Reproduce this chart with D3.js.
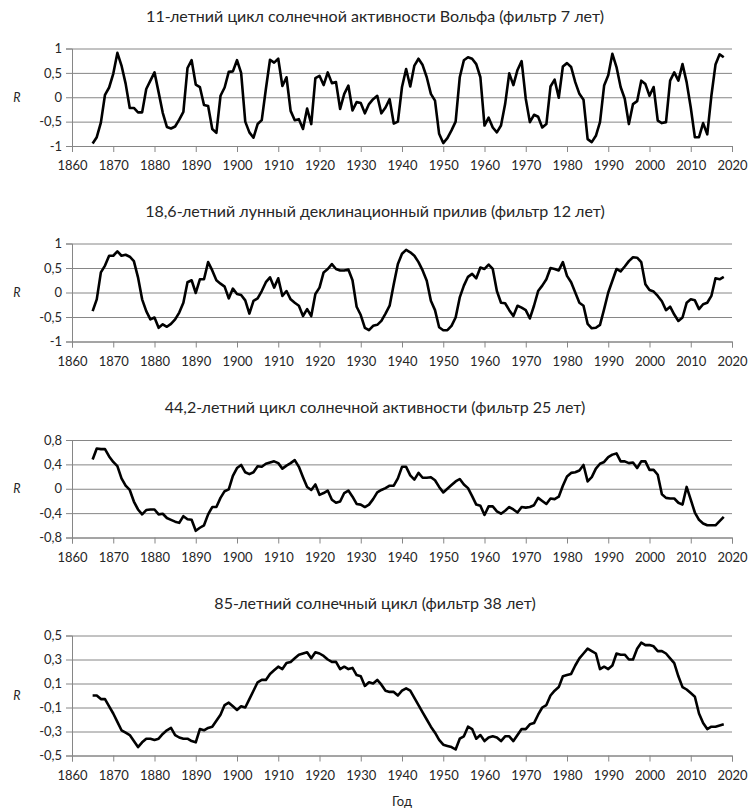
<!DOCTYPE html>
<html><head><meta charset="utf-8">
<script src="https://cdn.jsdelivr.net/npm/d3@7"></script>
<style>
body{margin:0;background:#fff}
svg{display:block}
text{font-family:Lato,"Open Sans",sans-serif;fill:#262626}
</style></head><body>
<svg id="chart" width="751" height="811"></svg>
<script>
// ---------- data ----------
const years = d3.range(1865, 2019);
const xTicks = [1860,1870,1880,1890,1900,1910,1920,1930,1940,1950,1960,1970,1980,1990,2000,2010,2020];

const titles = [
  "11-летний цикл солнечной активности Вольфа (фильтр 7 лет)",
  "18,6-летний лунный деклинационный прилив (фильтр 12 лет)",
  "44,2-летний цикл солнечной активности (фильтр 25 лет)",
  "85-летний солнечный цикл (фильтр 38 лет)"
];
const yLabel = "R";
const xLabel = "Год";

const ticks11 = [-1,-0.5,0,0.5,1];
const tickLabels11 = ["-1","-0,5","0","0,5","1"];
const ticks18 = [-1,-0.5,0,0.5,1];
const tickLabels18 = ["-1","-0,5","0","0,5","1"];
const ticks44 = [-0.8,-0.4,0,0.4,0.8];
const tickLabels44 = ["-0,8","-0,4","0","0,4","0,8"];
const ticks85 = [-0.5,-0.3,-0.1,0.1,0.3,0.5];
const tickLabels85 = ["-0,5","-0,3","-0,1","0,1","0,3","0,5"];

const solar11 = [
 -0.95,-0.82,-0.52,0.05,0.2,
 0.48,0.91,0.65,0.28,-0.22,-0.22,-0.31,-0.31,0.17,0.34,
 0.51,0.1,-0.32,-0.61,-0.64,-0.6,-0.46,-0.3,0.6,0.76,
 0.26,0.21,-0.16,-0.18,-0.65,-0.73,0.03,0.2,0.52,0.53,
 0.76,0.5,-0.5,-0.72,-0.83,-0.55,-0.47,0.17,0.77,0.71,
 0.79,0.23,0.41,-0.28,-0.47,-0.45,-0.65,-0.23,-0.55,0.39,
 0.44,0.25,0.51,0.29,0.31,-0.24,0.07,0.24,-0.27,-0.1,
 -0.12,-0.33,-0.14,-0.04,0.03,-0.33,-0.21,-0.04,-0.54,-0.5,
 0.21,0.58,0.22,0.65,0.79,0.66,0.41,0.07,-0.07,-0.75,
 -0.94,-0.84,-0.68,-0.5,0.41,0.76,0.82,0.79,0.68,0.41,
 -0.58,-0.42,-0.62,-0.72,-0.58,-0.14,0.49,0.25,0.56,0.74,
 -0.03,-0.51,-0.36,-0.4,-0.62,-0.55,0.22,0.36,-0.01,0.63,
 0.7,0.62,0.31,0.07,-0.05,-0.86,-0.92,-0.79,-0.51,0.24,
 0.45,0.89,0.62,0.21,-0.03,-0.55,-0.14,-0.08,0.34,0.27,
 0.03,0.21,-0.48,-0.53,-0.51,0.34,0.51,0.34,0.68,0.31,
 -0.21,-0.82,-0.82,-0.53,-0.76,0.03,0.67,0.88,0.82
];
const lunar18 = [
 -0.38,-0.14,0.41,0.55,0.75,
 0.75,0.84,0.75,0.77,0.73,0.64,0.31,-0.14,-0.38,-0.55,
 -0.51,-0.72,-0.65,-0.7,-0.64,-0.55,-0.41,-0.21,0.21,0.25,
 -0.01,0.27,0.27,0.62,0.45,0.25,0.18,0.12,-0.12,0.08,
 -0.03,-0.05,-0.16,-0.43,-0.17,-0.12,0.03,0.21,0.31,0.1,
 0.29,-0.07,0.03,-0.14,-0.21,-0.27,-0.48,-0.34,-0.48,-0.03,
 0.1,0.41,0.48,0.58,0.48,0.45,0.45,0.47,0.25,-0.29,
 -0.46,-0.72,-0.77,-0.68,-0.66,-0.58,-0.43,-0.27,0.17,0.58,
 0.79,0.87,0.82,0.75,0.62,0.45,0.24,-0.17,-0.36,-0.71,
 -0.77,-0.77,-0.68,-0.51,-0.1,0.14,0.32,0.38,0.29,0.51,
 0.48,0.57,0.48,0.03,-0.21,-0.22,-0.36,-0.48,-0.27,-0.31,
 -0.36,-0.53,-0.27,0.03,0.14,0.27,0.5,0.48,0.45,0.62,
 0.34,0.21,0,-0.21,-0.27,-0.64,-0.73,-0.72,-0.66,-0.34,
 0,0.24,0.48,0.43,0.53,0.64,0.72,0.71,0.62,0.17,
 0.05,0.02,-0.07,-0.18,-0.36,-0.29,-0.45,-0.58,-0.51,-0.21,
 -0.14,-0.16,-0.34,-0.24,-0.21,-0.07,0.29,0.27,0.32
];
const solar44 = [
 0.48,0.66,0.65,0.65,0.53,
 0.44,0.37,0.17,0.05,-0.02,-0.21,-0.34,-0.42,-0.35,-0.34,
 -0.34,-0.42,-0.41,-0.48,-0.51,-0.54,-0.56,-0.45,-0.5,-0.51,
 -0.69,-0.64,-0.6,-0.42,-0.3,-0.3,-0.15,-0.04,-0.01,0.21,
 0.34,0.39,0.27,0.24,0.27,0.37,0.36,0.41,0.43,0.45,
 0.42,0.33,0.38,0.42,0.47,0.36,0.19,0.03,-0.02,0.07,
 -0.1,-0.07,-0.03,-0.18,-0.23,-0.21,-0.07,-0.03,-0.13,-0.25,
 -0.26,-0.3,-0.26,-0.17,-0.06,-0.02,0.01,0.05,0.05,0.17,
 0.36,0.36,0.22,0.15,0.26,0.18,0.18,0.19,0.14,0.03,
 -0.06,0,0.06,0.12,0.16,0.07,0.01,-0.12,-0.26,-0.28,
 -0.43,-0.29,-0.29,-0.37,-0.41,-0.36,-0.3,-0.34,-0.39,-0.3,
 -0.31,-0.3,-0.27,-0.15,-0.2,-0.25,-0.16,-0.17,-0.13,0.05,
 0.2,0.26,0.27,0.3,0.39,0.12,0.19,0.33,0.41,0.44,
 0.52,0.56,0.58,0.45,0.45,0.42,0.43,0.34,0.45,0.45,
 0.31,0.31,0.23,-0.09,-0.15,-0.16,-0.16,-0.23,-0.26,0.03,
 -0.18,-0.39,-0.51,-0.57,-0.6,-0.6,-0.6,-0.53,-0.46
];
const solar85 = [
 0,0,-0.03,-0.03,-0.09,
 -0.15,-0.22,-0.29,-0.31,-0.33,-0.38,-0.43,-0.39,-0.36,-0.36,
 -0.37,-0.36,-0.32,-0.29,-0.27,-0.33,-0.35,-0.36,-0.36,-0.38,
 -0.39,-0.28,-0.29,-0.27,-0.26,-0.21,-0.16,-0.08,-0.06,-0.09,
 -0.12,-0.09,-0.1,-0.03,0.04,0.11,0.13,0.13,0.18,0.21,
 0.24,0.22,0.27,0.28,0.31,0.34,0.35,0.36,0.31,0.36,
 0.35,0.33,0.3,0.28,0.28,0.22,0.24,0.22,0.23,0.17,
 0.16,0.08,0.11,0.1,0.13,0.09,0.04,0.03,0.03,0,
 0.04,0.06,0.04,-0.02,-0.08,-0.14,-0.2,-0.26,-0.31,-0.37,
 -0.41,-0.42,-0.43,-0.45,-0.36,-0.34,-0.26,-0.28,-0.36,-0.33,
 -0.38,-0.35,-0.34,-0.35,-0.38,-0.34,-0.34,-0.38,-0.33,-0.28,
 -0.28,-0.24,-0.23,-0.16,-0.1,-0.08,0,0.04,0.07,0.16,
 0.17,0.18,0.25,0.31,0.35,0.39,0.37,0.35,0.22,0.24,
 0.22,0.25,0.35,0.34,0.34,0.3,0.3,0.39,0.44,0.42,
 0.42,0.41,0.37,0.37,0.35,0.31,0.27,0.16,0.07,0.05,
 0.02,-0.01,-0.15,-0.23,-0.28,-0.26,-0.26,-0.25,-0.24
];

// ---------- layout ----------
const plotLeft = 72, plotRight = 732;
const panels = [
  {title: titles[0], values: solar11, ticks: ticks11, labels: tickLabels11, top: 48.5, bottom: 146},
  {title: titles[1], values: lunar18, ticks: ticks18, labels: tickLabels18, top: 243.5, bottom: 341.5},
  {title: titles[2], values: solar44, ticks: ticks44, labels: tickLabels44, top: 440, bottom: 537.5},
  {title: titles[3], values: solar85, ticks: ticks85, labels: tickLabels85, top: 635.5, bottom: 755.5}
];

const svg = d3.select("#chart");
const x = d3.scaleLinear().domain([1860, 2020]).range([plotLeft, plotRight]);
const gridColor = "#868686";
const titleTargetWidth = 458;
let titleSize = 15;

panels.forEach((p, i) => {
  const ext = d3.extent(p.ticks);
  const y = d3.scaleLinear().domain(ext).range([p.bottom, p.top]);
  const g = svg.append("g");

  // gridlines
  g.append("g")
    .attr("transform", `translate(${plotLeft},0)`)
    .call(d3.axisLeft(y).tickValues(p.ticks).tickSize(-(plotRight - plotLeft)).tickFormat(""))
    .call(s => s.select(".domain").remove())
    .call(s => s.selectAll("line").attr("stroke", gridColor).attr("stroke-width", 1));

  // y axis
  g.append("g")
    .attr("transform", `translate(${plotLeft},0)`)
    .call(d3.axisLeft(y).tickValues(p.ticks).tickSize(6).tickPadding(4)
      .tickFormat(d => p.labels[p.ticks.indexOf(d)]))
    .call(s => s.select(".domain").attr("stroke", gridColor))
    .call(s => s.selectAll("line").attr("stroke", gridColor))
    .call(s => s.selectAll("text").attr("font-size", 13).attr("font-family", "Lato, sans-serif").attr("fill", "#1f1f1f"));

  // x axis
  g.append("g")
    .attr("transform", `translate(0,${p.bottom})`)
    .call(d3.axisBottom(x).tickValues(xTicks).tickSize(6).tickPadding(9).tickFormat(d3.format("d")))
    .call(s => s.select(".domain").attr("stroke", gridColor))
    .call(s => s.selectAll("line").attr("stroke", gridColor))
    .call(s => s.selectAll("text").attr("font-size", 13).attr("font-family", "Lato, sans-serif").attr("fill", "#1f1f1f"));

  // R label
  g.append("text")
    .attr("x", 17).attr("y", (p.top + p.bottom) / 2 + 4.5)
    .attr("text-anchor", "middle")
    .attr("font-size", 12.5).attr("font-style", "italic")
    .text(yLabel);

  // title
  g.append("text")
    .attr("class", "ptitle")
    .attr("x", 375).attr("y", p.top - 27)
    .attr("text-anchor", "middle")
    .attr("font-size", titleSize)
    .text(p.title);

  // line
  const line = d3.line().x((d, k) => x(years[k])).y(d => y(d));
  g.append("path")
    .datum(p.values)
    .attr("fill", "none")
    .attr("stroke", "#000")
    .attr("stroke-width", 2.6)
    .attr("stroke-linejoin", "round")
    .attr("d", line);
});

// fit title size to reference width
const first = svg.select(".ptitle").node();
const w = first.getComputedTextLength();
if (w > 0) {
  titleSize = titleSize * titleTargetWidth / w;
  svg.selectAll(".ptitle").attr("font-size", titleSize.toFixed(2));
}

svg.append("text")
  .attr("x", (plotLeft + plotRight) / 2).attr("y", 806)
  .attr("text-anchor", "middle")
  .attr("font-size", 13)
  .text(xLabel);
</script>
</body></html>
